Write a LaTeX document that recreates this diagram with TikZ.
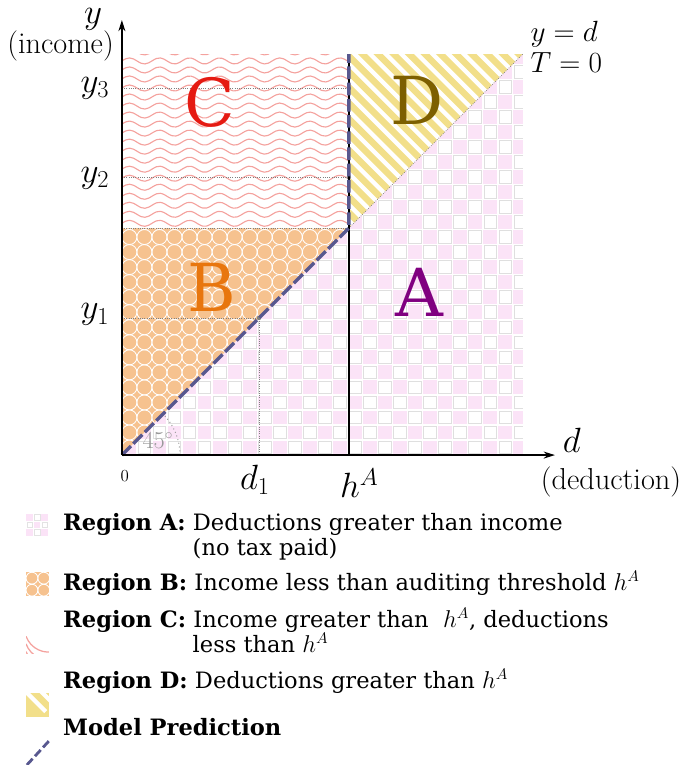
\documentclass[tikz,border=0pt]{standalone}
\usepackage{fontspec}
\newfontfamily\legfont{DejaVu Serif}
\usepackage{tikz}
\usetikzlibrary{arrows.meta, positioning, calc}
\definecolor{regApink}{HTML}{FBE3F7}
\definecolor{regBorange}{HTML}{F6C28F}
\definecolor{regCpink}{HTML}{F4A29E}
\definecolor{regDyellow}{HTML}{F2DF8A}
\definecolor{modelblue}{HTML}{58588F}
\definecolor{letA}{HTML}{800080}
\definecolor{letB}{HTML}{E8760E}
\definecolor{letC}{HTML}{E51A12}
\definecolor{letD}{HTML}{7D5F00}
\def\hval{5.66}
\def\cell{0.375}

\begin{document}
\begin{tikzpicture}[
  axis/.style={line width=1pt, -{Stealth[length=8pt, width=5pt]}},
  guide/.style={gray, densely dotted, line width=0.6pt},
  model/.style={draw=modelblue, line width=2.4pt, dash pattern=on 9pt off 2.5pt},
  bigletter/.style={font=\legfont\fontsize{47}{49}\selectfont},
  mathlab/.style={font=\fontsize{23}{27}\selectfont, inner sep=1pt},
  wordlab/.style={font=\fontsize{21.5}{25}\selectfont, inner sep=1pt},
  leghead/.style={font=\legfont\fontsize{16}{19}\selectfont, anchor=west, inner sep=0pt, align=left},
  swatch/.style={minimum width=0.57cm, minimum height=0.59cm, inner sep=0pt, anchor=north west}
]
  \useasboundingbox (-3.04,-7.73) rectangle (13.94,11.35);

  \coordinate (O) at (0,0);
  \coordinate (P) at (\hval,\hval);
  \coordinate (hbot) at (\hval,0);
  \coordinate (htop) at (\hval,10);
  \coordinate (corner) at (10,10);

  % region A: checker below the diagonal
  \begin{scope}
    \clip (0,0) -- (10,0) -- (10,10) -- cycle;
    \foreach \i in {0,...,26} {
      \foreach \j in {0,...,26} {
        \pgfmathtruncatemacro\cpar{mod(\i+\j,2)}
        \ifnum\cpar=0
          \fill[regApink] (\i*\cell+0.015,\j*\cell+0.015) rectangle ++(\cell-0.03,\cell-0.03);
        \else
          \draw[gray!25, fill=white, line width=0.6pt] (\i*\cell+0.03,\j*\cell+0.03) rectangle ++(\cell-0.06,\cell-0.06);
        \fi
      }
    }
  \end{scope}

  % region B: circles
  \fill[regBorange] (O) -- (0,\hval) -- (P) -- cycle;
  \begin{scope}
    \clip (O) -- (0,\hval) -- (P) -- cycle;
    \foreach \i in {0,...,15} {
      \foreach \j in {0,...,15} {
        \draw[white, line width=0.6pt] (\i*\cell+0.1875,\j*\cell+0.1875) circle (0.1875);
      }
    }
  \end{scope}

  % region C: waves
  \begin{scope}
    \clip (0,\hval) rectangle (\hval,10);
    \foreach \k in {0,...,19} {
      \draw[regCpink, line width=0.8pt] plot[domain=0:\hval, samples=60, smooth]
        (\x, {\hval+0.12+\k*0.225+0.075*sin(\x*480)});
    }
  \end{scope}

  % region D: stripes
  \begin{scope}
    \clip (P) -- (htop) -- (corner) -- cycle;
    \foreach \k in {0,...,23} {
      \draw[regDyellow, line width=4.6pt] ({2*\hval+\k*0.39-11},11) -- ({2*\hval+\k*0.39-4},4);
    }
  \end{scope}

  % guide lines
  \coordinate (ya1) at (0,3.42);
  \coordinate (pd1) at (3.42,3.42);
  \coordinate (xd1) at (3.42,0);
  \coordinate (ya2) at (0,6.93);
  \coordinate (ph2) at (\hval,6.93);
  \coordinate (ya3) at (0,9.15);
  \coordinate (ph3) at (\hval,9.15);
  \draw[guide] (ya1) -- (pd1) -- (xd1);
  \draw[guide] (ya2) -- (ph2);
  \draw[guide] (ya3) -- (ph3);
  \draw[guide] (0,\hval) -- (P);
  \draw[gray, densely dotted, line width=0.5pt] (P) -- (corner);
  \fill[gray] (pd1) circle (1.6pt) (ph2) circle (1.6pt) (ph3) circle (1.6pt);
  \draw[gray!80, dotted, line width=0.7pt] (1.45,0) arc[start angle=0, end angle=45, radius=1.45];
  \node[gray!80, font=\fontsize{16}{18}\selectfont] (ang) at (0.9,0.36) {$45^\circ$};

  % threshold and model
  \draw[line width=1.4pt] (hbot) -- (htop);
  \draw[model] (O) -- (P) -- (htop);

  % axes
  \coordinate (xend) at (10.8,0);
  \coordinate (yend) at (0,10.85);
  \draw[axis] (O) -- (xend);
  \draw[axis] (O) -- (yend);

  % region letters
  \node[bigletter, text=letA] (labA) at (7.41,4.06) {A};
  \node[bigletter, text=letB] (labB) at (2.24,4.19) {B};
  \node[bigletter, text=letC] (labC) at (2.19,8.8) {C};
  \node[bigletter, text=letD] (labD) at (7.36,8.85) {D};

  % axis labels
  \node[mathlab, anchor=base, inner sep=0pt] (ylab) at (-0.72,10.76) {$y$};
  \node[wordlab] (inclab) at (-1.53,10.2) {(income)};
  \node[mathlab] (y3lab) at (-0.67,9.15) {$y_3$};
  \node[mathlab] (y2lab) at (-0.67,6.9) {$y_2$};
  \node[mathlab] (y1lab) at (-0.67,3.5) {$y_1$};
  \node[font=\fontsize{12}{14}\selectfont] (zero) at (0.07,-0.52) {0};
  \node[mathlab] (d1lab) at (3.32,-0.62) {$d_1$};
  \node[mathlab] (hlab) at (5.92,-0.7) {$h^A$};
  \node[mathlab] (dlab) at (11.22,0.37) {$d$};
  \node[wordlab] (deduclab) at (12.2,-0.67) {(deduction)};
  \node[mathlab, font=\fontsize{21}{25}\selectfont, anchor=west] (ydlab) at (10.15,10.5) {$y=d$};
  \node[mathlab, font=\fontsize{21}{25}\selectfont, anchor=west] (tlab) at (10.15,9.8) {$T=0$};

  % legend swatches
  \begin{scope}
    \clip (-2.39,-1.45) rectangle (-1.82,-2.02);
    \foreach \i in {0,1,2} {
      \foreach \j in {0,1,2} {
        \pgfmathtruncatemacro\cpar{mod(\i+\j,2)}
        \ifnum\cpar=0
          \fill[regApink] (-2.39+\i*0.19,-2.02+\j*0.19) rectangle ++(0.17,0.17);
        \else
          \draw[gray!22, fill=white] (-2.39+\i*0.19+0.02,-2.02+\j*0.19+0.02) rectangle ++(0.14,0.14);
        \fi
      }
    }
  \end{scope}
  \node[swatch] (swA) at (-2.39,-1.45) {};
  \begin{scope}
    \clip (-2.39,-2.92) rectangle (-1.82,-3.52);
    \fill[regBorange] (-2.39,-2.92) rectangle (-1.82,-3.52);
    \foreach \i in {0,1} {
      \foreach \j in {0,1} {
        \draw[white, line width=0.6pt] (-2.39+0.1475+\i*0.295,-3.52+0.15+\j*0.3) circle (0.1475);
      }
    }
  \end{scope}
  \node[swatch] (swB) at (-2.39,-2.92) {};
  \begin{scope}
    \clip (-2.39,-4.34) rectangle (-1.82,-4.96);
    \foreach \k in {0,1,2} {
      \draw[regCpink, line width=0.9pt] (-2.39,-4.52-\k*0.19) arc[start angle=200, end angle=340, radius=0.6];
    }
  \end{scope}
  \node[swatch] (swC) at (-2.39,-4.34) {};
  \begin{scope}
    \clip (-2.39,-5.94) rectangle (-1.82,-6.53);
    \fill[regDyellow] (-2.39,-5.94) rectangle (-1.82,-6.53);
    \foreach \k in {0,1,2} {
      \draw[white, line width=3pt] (-2.7+\k*0.39,-5.6) -- (-1.9+\k*0.39,-6.4);
    }
  \end{scope}
  \node[swatch] (swD) at (-2.39,-5.94) {};
  \coordinate (mA) at (-2.37,-7.73);
  \coordinate (mB) at (-1.8,-7.11);
  \draw[model, line width=2pt, dash pattern=on 6pt off 2.5pt] (mA) -- (mB);

  % legend text
  \node[leghead] (legA) at (-1.47,-1.72) {\textbf{Region A:} Deductions greater than income};
  \node[leghead] (legA2) at (1.76,-2.34) {(no tax paid)};
  \node[leghead] (legB) at (-1.47,-3.19) {\textbf{Region B:} Income less than auditing threshold $h^A$};
  \node[leghead] (legC) at (-1.47,-4.11) {\textbf{Region C:} Income greater than~ $h^A$, deductions};
  \node[leghead] (legC2) at (1.76,-4.69) {less than $h^A$};
  \node[leghead] (legD) at (-1.47,-5.64) {\textbf{Region D:} Deductions greater than $h^A$};
  \node[leghead] (legM) at (-1.47,-6.78) {\textbf{Model Prediction}};
\end{tikzpicture}
\end{document}
